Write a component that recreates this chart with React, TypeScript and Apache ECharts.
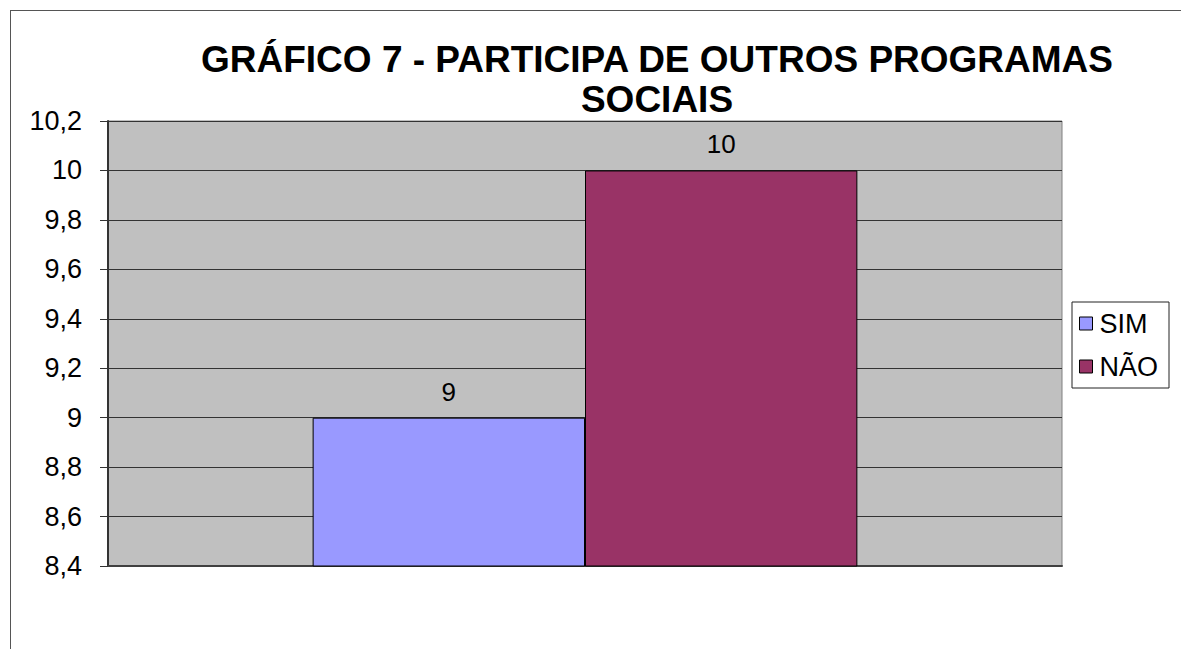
import React, { useEffect, useRef } from "react";
import * as echarts from "echarts";

const titleLines = ["GRÁFICO 7 - PARTICIPA DE OUTROS PROGRAMAS", "SOCIAIS"];
const seriesNames = ["SIM", "NÃO"];
const seriesValues = [9, 10];
const seriesColors = ["#9999FF", "#993366"];
const yMin = 8.4;
const yMax = 10.2;
const yStep = 0.2;

const FONT = "'Liberation Sans', Arial, sans-serif";

export default function App() {
  const ref = useRef<HTMLDivElement>(null);
  useEffect(() => {
    if (!ref.current) return;
    const chart = echarts.init(ref.current, undefined, { renderer: "svg" });
    const fmt = (v: number) => String(Number(v.toFixed(1))).replace(".", ",");
    chart.setOption({
      animation: false,
      backgroundColor: "#ffffff",
      textStyle: { fontFamily: FONT },
      title: {
        text: titleLines.join("\n"),
        left: 657,
        top: 39,
        textAlign: "center",
        padding: 0,
        textStyle: {
          fontFamily: FONT,
          fontSize: 37,
          fontWeight: "bold",
          color: "#000",
          lineHeight: 40,
        },
      },
      legend: {
        orient: "vertical",
        left: 1072,
        top: 302,
        padding: [8, 11, 8, 7],
        itemGap: 16,
        itemWidth: 13,
        itemHeight: 13,
        borderColor: "#222",
        borderWidth: 1,
        backgroundColor: "#fff",
        icon: "rect",
        data: seriesNames.map((n) => ({ name: n, itemStyle: { borderColor: "#000", borderWidth: 1 } })),
        textStyle: { fontFamily: FONT, fontSize: 27, color: "#000", padding: [0, 0, 0, 2] },
      },
      grid: {
        left: 108,
        right: 119,
        top: 121,
        bottom: 83,
        show: true,
        backgroundColor: "#C0C0C0",
        borderColor: "#808080",
        borderWidth: 1,
      },
      xAxis: {
        type: "category",
        data: [""],
        axisLine: { show: true, lineStyle: { color: "#404040", width: 2 } },
        axisTick: { show: false },
        axisLabel: { show: false },
        splitLine: { show: false },
      },
      yAxis: {
        type: "value",
        min: yMin,
        max: yMax,
        interval: yStep,
        axisLine: { show: true, lineStyle: { color: "#333", width: 2 } },
        axisTick: { show: true, length: 8, lineStyle: { color: "#333" } },
        axisLabel: {
          margin: 26,
          fontSize: 27,
          color: "#000",
          fontFamily: FONT,
          formatter: (v: number) => fmt(v),
        },
        splitLine: { show: true, lineStyle: { color: "#333", width: 1 } },
      },
      series: seriesNames.map((name, i) => ({
        name,
        type: "bar",
        data: [seriesValues[i]],
        barGap: "0%",
        barCategoryGap: "42.9%",
        itemStyle: { color: seriesColors[i], borderColor: "#000", borderWidth: 1 },
        label: {
          show: true,
          position: "top",
          distance: 13,
          fontSize: 26,
          color: "#000",
          fontFamily: FONT,
        },
      })),
      graphic: [
        {
          type: "line",
          shape: { x1: 10, y1: 10.5, x2: 1181, y2: 10.5 },
          style: { stroke: "#555", lineWidth: 1 },
          silent: true,
        },
        {
          type: "line",
          shape: { x1: 10.5, y1: 10, x2: 10.5, y2: 649 },
          style: { stroke: "#555", lineWidth: 1 },
          silent: true,
        },
      ],
    });
    return () => chart.dispose();
  }, []);
  return (
    <div
      ref={ref}
      style={{ position: "fixed", left: 0, top: 0, width: 1181, height: 649 }}
    />
  );
}
